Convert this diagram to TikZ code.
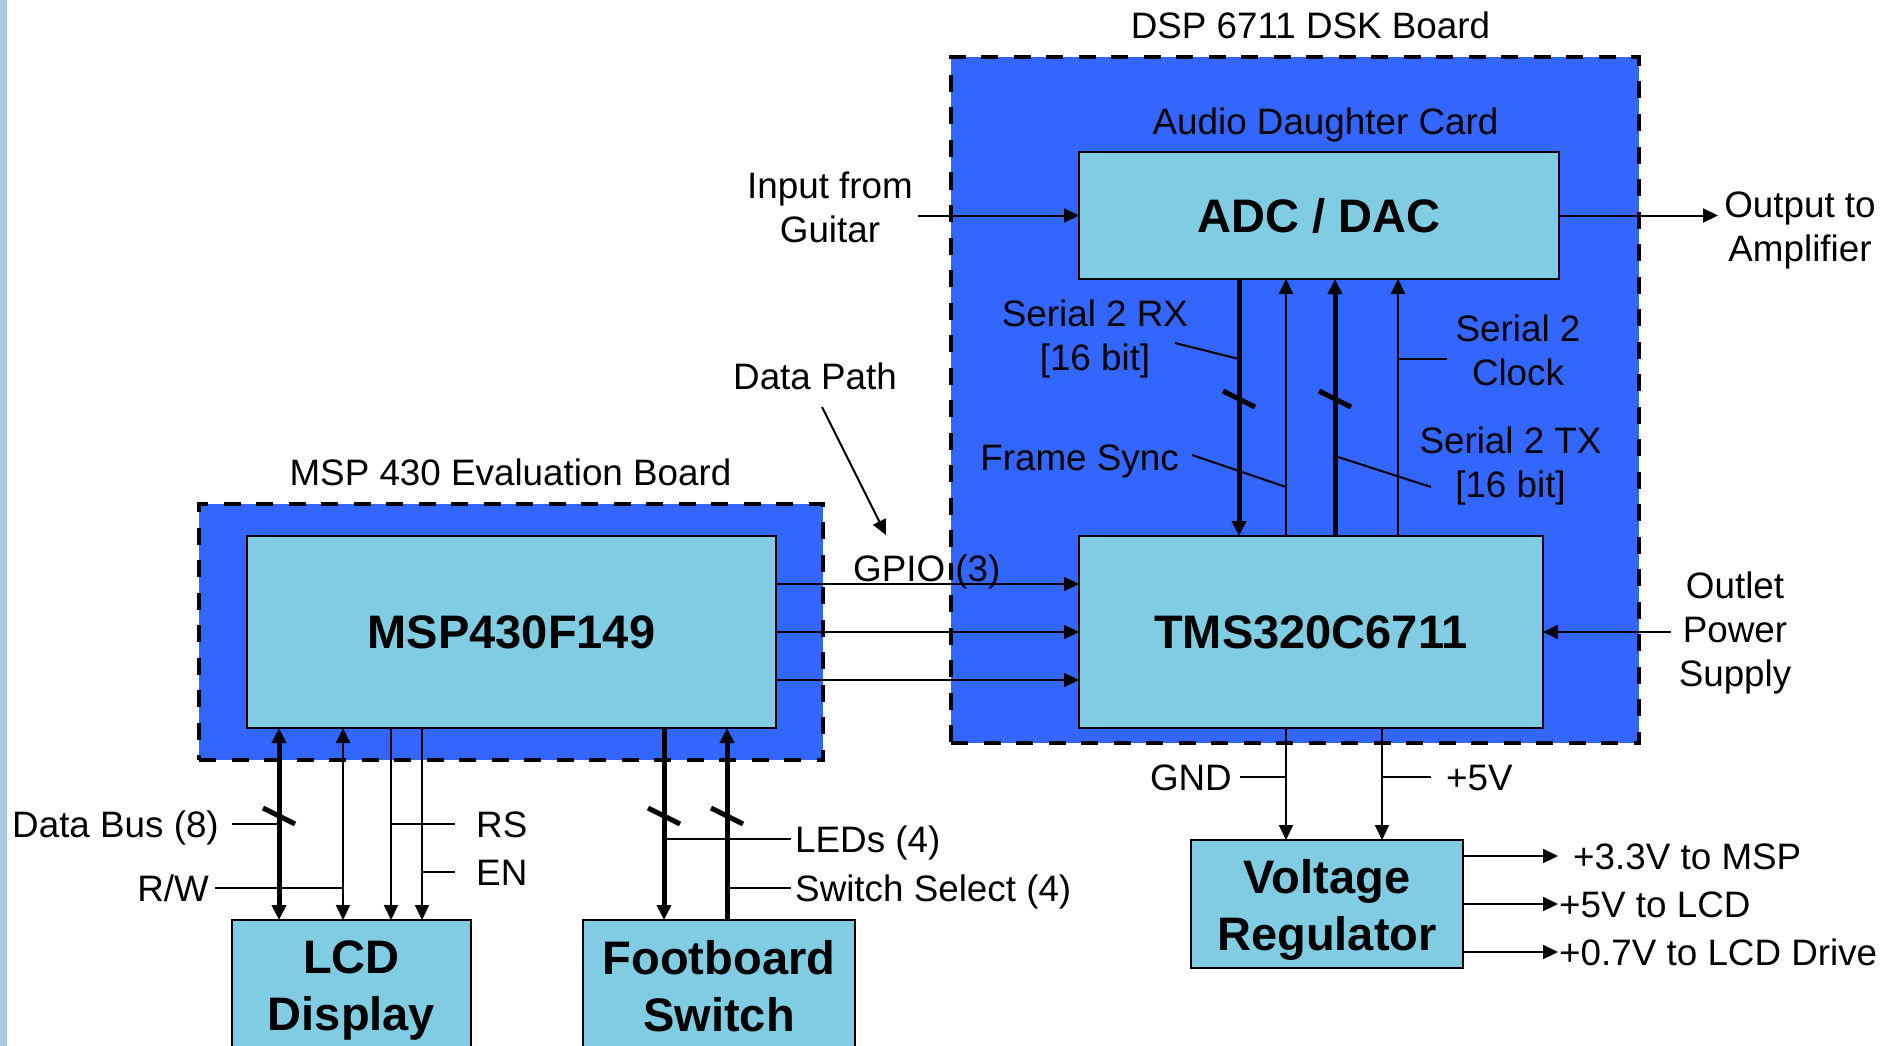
\documentclass[tikz,border=0pt]{standalone}
\usepackage{fontspec}
\setmainfont{Liberation Sans}
\usetikzlibrary{arrows.meta,calc}
\definecolor{stripblue}{RGB}{168,200,232}
\definecolor{boardblue}{RGB}{51,102,255}
\definecolor{boxblue}{RGB}{128,204,226}
\begin{document}
\begin{tikzpicture}[x=1pt,y=-1pt,
  >={Triangle[length=15pt,width=14pt]},
  board/.style={fill=boardblue, draw=black, line width=4.5pt, dash pattern=on 17pt off 15.5pt, inner sep=0pt, outer sep=0pt},
  box/.style={fill=boxblue, draw=black, line width=2.2pt, inner sep=0pt, outer sep=0pt},
  btxt/.style={font=\fontsize{47pt}{57.5pt}\selectfont\bfseries, inner sep=0pt, align=center},
  lbl/.style={font=\fontsize{36.8pt}{44pt}\selectfont, inner sep=0pt, text height=26.5pt, text depth=0pt},
  mlbl/.style={font=\fontsize{36.8pt}{44pt}\selectfont, inner sep=0pt, align=center, anchor=north},
  wire/.style={line width=2pt},
  bus/.style={line width=5pt},
  slashmark/.style={line width=5pt}]
\useasboundingbox (0,0) rectangle (1900,1046);
\clip (0,0) rectangle (1900,1046);
\fill[white] (0,0) rectangle (1900,1046);
\fill[stripblue] (0,0) rectangle (7,1046);

% boards
\node[board, minimum width=624pt, minimum height=256pt] (msb) at (511,632) {};
\node[board, minimum width=688pt, minimum height=686pt] (dsb) at (1295,400) {};
\node[lbl] (msbT) at (510.5,472.5) {MSP 430 Evaluation Board};
\node[lbl] (dsbT) at (1310.5,25) {DSP 6711 DSK Board};
\node[lbl] (adcT) at (1325.5,121.5) {Audio Daughter Card};

% boxes
\node[box, btxt, minimum width=480pt, minimum height=127pt] (adc) at (1319,215.5) {ADC / DAC};
\node[box, btxt, minimum width=464pt, minimum height=192pt] (tms) at (1311,632) {TMS320C6711};
\node[box, btxt, minimum width=529pt, minimum height=192pt] (msp) at (511.5,632) {MSP430F149};
\node[box, minimum width=239pt, minimum height=150pt, anchor=north] (lcd) at (351.5,920) {};
\node[box, minimum width=272pt, minimum height=150pt, anchor=north] (fbs) at (719,920) {};
\node[box, minimum width=272pt, minimum height=128pt] (vr) at (1327,904) {};
\node[btxt, anchor=north] (lcdT) at (351.5,940) {LCD\\Display};
\node[btxt, anchor=north] (fbsT) at (719,940) {Footboard\\Switch};
\node[btxt, anchor=north] (vrT) at (1327,859) {Voltage\\Regulator};

% labels
\node[mlbl] (inL) at (830,172) {Input from\\Guitar};
\node[mlbl] (outL) at (1800,192) {Output to\\Amplifier};
\node[mlbl] (rxL) at (1095,300) {Serial 2 RX\\{[16 bit]}};
\node[mlbl] (clkL) at (1518,315) {Serial 2\\Clock};
\node[mlbl] (txL) at (1510.5,427) {Serial 2 TX\\{[16 bit]}};
\node[lbl] (fsL) at (1079.5,457) {Frame Sync};
\node[lbl] (dpL) at (815,376.5) {Data Path};
\node[lbl, anchor=west] (gpL) at (853,568) {GPIO (3)};
\node[mlbl] (pwL) at (1735,572) {Outlet\\Power\\Supply};
\node[lbl, anchor=east] (gndL) at (1232,777) {GND};
\node[lbl, anchor=west] (p5L) at (1446,777) {+5V};
\node[lbl, anchor=west] (o1L) at (1573,856) {+3.3V to MSP};
\node[lbl, anchor=west] (o2L) at (1559,904) {+5V to LCD};
\node[lbl, anchor=west] (o3L) at (1559,952) {+0.7V to LCD Drive};
\node[lbl, anchor=east] (dbL) at (219,824) {Data Bus (8)};
\node[lbl, anchor=east] (rwL) at (209,888) {R/W};
\node[lbl, anchor=west] (rsL) at (476,824) {RS};
\node[lbl, anchor=west] (enL) at (476,872) {EN};
\node[lbl, anchor=west] (ledL) at (795,839) {LEDs (4)};
\node[lbl, anchor=west] (swL) at (795,888) {Switch Select (4)};

% coordinates
\coordinate (inS) at (918,215.5);
\coordinate (outE) at (1718,215.5);
\coordinate (pwS) at (1671,632);
\coordinate (dpS) at (822,407);
\coordinate (dpE) at (886,535);
\coordinate (oE) at (1558,0);
\coordinate (db) at (279,0);
\coordinate (rw) at (343,0);
\coordinate (rs) at (391,0);
\coordinate (en) at (422,0);
\coordinate (led) at (664,0);
\coordinate (sw) at (727,0);
\coordinate (rx) at (1239,0);
\coordinate (fs) at (1286,0);
\coordinate (tx) at (1335,0);
\coordinate (clk) at (1398,0);
\coordinate (gnd) at (1286,0);
\coordinate (p5) at (1382,0);
\coordinate (rxA) at (1175,343);
\coordinate (rxB) at (1239,359);
\coordinate (clkA) at (1447,359);
\coordinate (fsA) at (1192,455);
\coordinate (fsB) at (1286,487);
\coordinate (txA) at (1338,457);
\coordinate (txB) at (1431,487);

% audio path
\draw[wire,->] (inS) -- (adc.west);
\draw[wire,->] (adc.east) -- (outE);
\draw[wire,->] (pwS) -- (tms.east);
\draw[wire,->] (dpS) -- (dpE);

% DSP internal
\draw[bus,->] (rx |- adc.south) -- (rx |- tms.north);
\draw[wire,->] (fs |- tms.north) -- (fs |- adc.south);
\draw[bus,->] (tx |- tms.north) -- (tx |- adc.south);
\draw[wire,->] (clk |- tms.north) -- (clk |- adc.south);
\draw[wire] (rxA) -- (rxB);
\draw[wire] (clk |- clkA) -- (clkA);
\draw[wire] (fsA) -- (fsB);
\draw[wire] (txA) -- (txB);
\draw[slashmark] ($(rx |- 0,399)+(-16,-8)$) -- ($(rx |- 0,399)+(16,8)$);
\draw[slashmark] ($(tx |- 0,399)+(-16,-8)$) -- ($(tx |- 0,399)+(16,8)$);

% GPIO
\draw[wire,->] ($(msp.north east)!0.25!(msp.south east)$) -- ($(tms.north west)!0.25!(tms.south west)$);
\draw[wire,->] ($(msp.north east)!0.5!(msp.south east)$) -- ($(tms.north west)!0.5!(tms.south west)$);
\draw[wire,->] ($(msp.north east)!0.75!(msp.south east)$) -- ($(tms.north west)!0.75!(tms.south west)$);

% power
\draw[wire,->] (gnd |- tms.south) -- (gnd |- vr.north);
\draw[wire,->] (p5 |- tms.south) -- (p5 |- vr.north);
\draw[wire] ([xshift=8pt]gndL.east) -- (gndL.east -| gnd);
\draw[wire] (p5 |- p5L.west) -- ([xshift=-15pt]p5L.west);
\draw[wire,->] (vr.east |- o1L.west) -- (oE |- o1L.west);
\draw[wire,->] (vr.east |- o2L.west) -- (oE |- o2L.west);
\draw[wire,->] (vr.east |- o3L.west) -- (oE |- o3L.west);

% MSP to LCD / footboard
\draw[bus,<->] (db |- msp.south) -- (db |- lcd.north);
\draw[wire,<->] (rw |- msp.south) -- (rw |- lcd.north);
\draw[wire,->] (rs |- msp.south) -- (rs |- lcd.north);
\draw[wire,->] (en |- msp.south) -- (en |- lcd.north);
\draw[bus,->] (led |- msp.south) -- (led |- fbs.north);
\draw[bus,->] (sw |- fbs.north) -- (sw |- msp.south);
\draw[wire] ([xshift=13pt]dbL.east) -- (dbL.east -| db);
\draw[wire] ([xshift=6pt]rwL.east) -- (rwL.east -| rw);
\draw[wire] (rs |- rsL.west) -- ([xshift=-21pt]rsL.west);
\draw[wire] (en |- enL.west) -- ([xshift=-21pt]enL.west);
\draw[wire] (led |- ledL.west) -- ([xshift=-4pt]ledL.west);
\draw[wire] (sw |- swL.west) -- ([xshift=-4pt]swL.west);
\draw[slashmark] ($(db |- 0,816)+(-16,-8)$) -- ($(db |- 0,816)+(16,8)$);
\draw[slashmark] ($(led |- 0,816)+(-16,-8)$) -- ($(led |- 0,816)+(16,8)$);
\draw[slashmark] ($(sw |- 0,816)+(-16,-8)$) -- ($(sw |- 0,816)+(16,8)$);
\end{tikzpicture}
\end{document}
